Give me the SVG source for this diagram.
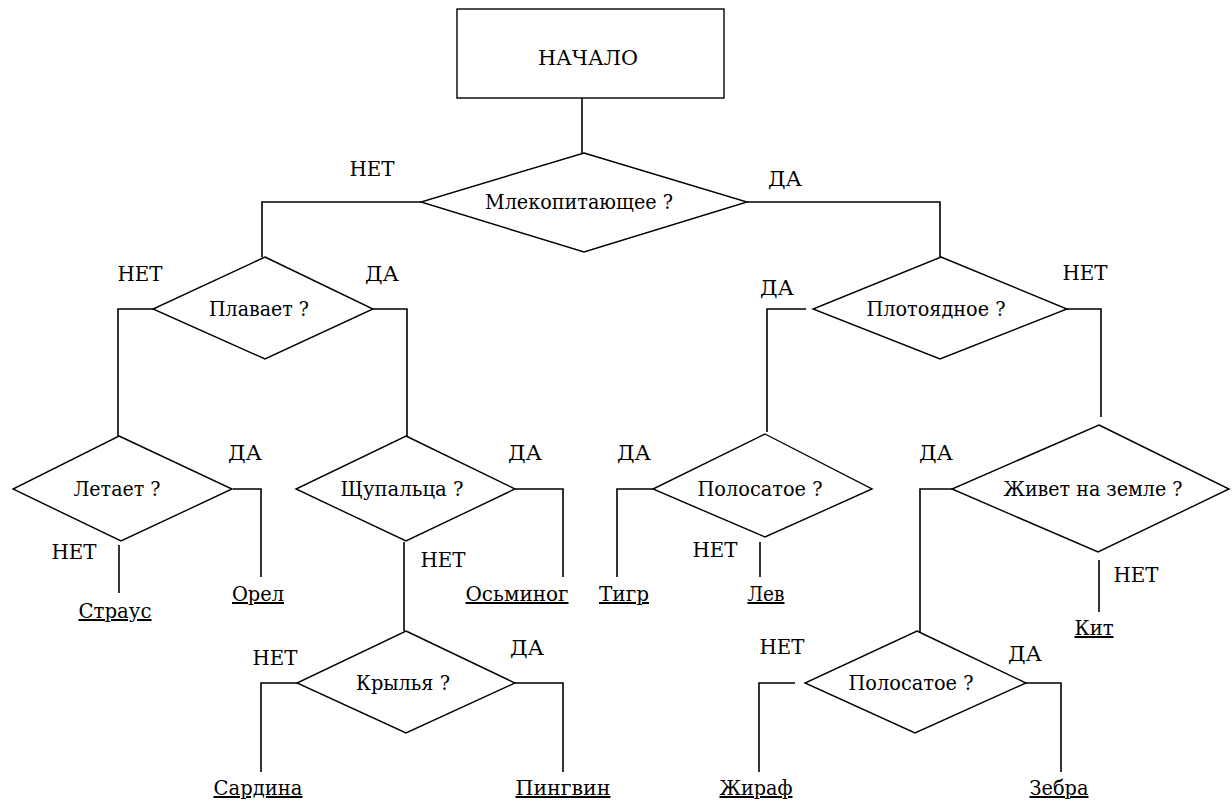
<svg xmlns="http://www.w3.org/2000/svg" width="1232" height="802" viewBox="0 0 1232 802">
<style>
.s{fill:none;stroke:#000;stroke-width:1.6}
.d{fill:#fff;stroke:#000;stroke-width:1.4}
.t{font-family:"DejaVu Serif","Liberation Serif",serif;fill:#000}
.q{font-size:20px;text-anchor:middle}
.l{font-size:21px;text-anchor:middle}
.leaf{font-size:20px;text-anchor:middle;text-decoration:underline}
</style>
<rect width="1232" height="802" fill="#fff"/>
<g id="connectors" class="s">
<path d="M582,98V153"/>
<path d="M421,202H262V257"/>
<path d="M747,202H940V257"/>
<path d="M153,309H118V436"/>
<path d="M373,309H407V436"/>
<path d="M233,489H261V577"/>
<path d="M119,545V593"/>
<path d="M515,489H563V577"/>
<path d="M404,542V631"/>
<path d="M297,683H261V772"/>
<path d="M515,683H563V772"/>
<path d="M806,309H767V432"/>
<path d="M1067,309H1101V417"/>
<path d="M653,489H617V577"/>
<path d="M760,542V577"/>
<path d="M952,489H920V632"/>
<path d="M1099,560V612"/>
<path d="M795,683H759V772"/>
<path d="M1026,683H1061V772"/>
</g>
<g class="t">
<g id="start"><rect class="d" x="457" y="9" width="267" height="89"/><text class="q" x="588" y="65" textLength="100" lengthAdjust="spacingAndGlyphs">НАЧАЛО</text></g>
<g id="q-mammal"><polygon class="d" points="584,153 747,202 584,252 421,202"/><text class="q" x="579" y="209" textLength="188" lengthAdjust="spacingAndGlyphs">Млекопитающее ?</text></g>
<g id="q-swims"><polygon class="d" points="265,257 373,309 265,359 153,309"/><text class="q" x="259" y="316" textLength="100" lengthAdjust="spacingAndGlyphs">Плавает ?</text></g>
<g id="q-flies"><polygon class="d" points="119,436 232,489 121,541 13,489"/><text class="q" x="117" y="496" textLength="87" lengthAdjust="spacingAndGlyphs">Летает ?</text></g>
<g id="q-tentacles"><polygon class="d" points="406,436 515,489 406,541 296,489"/><text class="q" x="402" y="496" textLength="123" lengthAdjust="spacingAndGlyphs">Щупальца ?</text></g>
<g id="q-wings"><polygon class="d" points="406,631 515,683 406,733 297,683"/><text class="q" x="403" y="690" textLength="94" lengthAdjust="spacingAndGlyphs">Крылья ?</text></g>
<g id="q-carnivore"><polygon class="d" points="941,257 1067,309 940,359 813,309"/><text class="q" x="936" y="316" textLength="139" lengthAdjust="spacingAndGlyphs">Плотоядное ?</text></g>
<g id="q-striped1"><polygon class="d" points="765,434 872,489 765,537 653,489"/><text class="q" x="760" y="496" textLength="125" lengthAdjust="spacingAndGlyphs">Полосатое ?</text></g>
<g id="q-land"><polygon class="d" points="1099,425 1229,489 1098,552 952,489"/><text class="q" x="1093" y="496" textLength="179" lengthAdjust="spacingAndGlyphs">Живет на земле ?</text></g>
<g id="q-striped2"><polygon class="d" points="917,631 1026,683 915,733 805,683"/><text class="q" x="911" y="690" textLength="125" lengthAdjust="spacingAndGlyphs">Полосатое ?</text></g>
<g id="labels">
<text class="l" x="372" y="176" textLength="45" lengthAdjust="spacingAndGlyphs">НЕТ</text>
<text class="l" x="785" y="186" textLength="34" lengthAdjust="spacingAndGlyphs">ДА</text>
<text class="l" x="140" y="281" textLength="45" lengthAdjust="spacingAndGlyphs">НЕТ</text>
<text class="l" x="382" y="281" textLength="34" lengthAdjust="spacingAndGlyphs">ДА</text>
<text class="l" x="245" y="460" textLength="34" lengthAdjust="spacingAndGlyphs">ДА</text>
<text class="l" x="74" y="559" textLength="45" lengthAdjust="spacingAndGlyphs">НЕТ</text>
<text class="l" x="525" y="460" textLength="34" lengthAdjust="spacingAndGlyphs">ДА</text>
<text class="l" x="443" y="567" textLength="45" lengthAdjust="spacingAndGlyphs">НЕТ</text>
<text class="l" x="275" y="665" textLength="45" lengthAdjust="spacingAndGlyphs">НЕТ</text>
<text class="l" x="527" y="655" textLength="34" lengthAdjust="spacingAndGlyphs">ДА</text>
<text class="l" x="777" y="295" textLength="34" lengthAdjust="spacingAndGlyphs">ДА</text>
<text class="l" x="1085" y="280" textLength="45" lengthAdjust="spacingAndGlyphs">НЕТ</text>
<text class="l" x="634" y="460" textLength="34" lengthAdjust="spacingAndGlyphs">ДА</text>
<text class="l" x="715" y="557" textLength="45" lengthAdjust="spacingAndGlyphs">НЕТ</text>
<text class="l" x="936" y="460" textLength="34" lengthAdjust="spacingAndGlyphs">ДА</text>
<text class="l" x="1136" y="582" textLength="45" lengthAdjust="spacingAndGlyphs">НЕТ</text>
<text class="l" x="782" y="654" textLength="45" lengthAdjust="spacingAndGlyphs">НЕТ</text>
<text class="l" x="1025" y="661" textLength="34" lengthAdjust="spacingAndGlyphs">ДА</text>
</g>
<g id="leaf-ostrich"><text class="leaf" x="115" y="618" textLength="73" lengthAdjust="spacingAndGlyphs">Страус</text></g>
<g id="leaf-eagle"><text class="leaf" x="258" y="601" textLength="52" lengthAdjust="spacingAndGlyphs">Орел</text></g>
<g id="leaf-octopus"><text class="leaf" x="517" y="601" textLength="103" lengthAdjust="spacingAndGlyphs">Осьминог</text></g>
<g id="leaf-tiger"><text class="leaf" x="624" y="601" textLength="50" lengthAdjust="spacingAndGlyphs">Тигр</text></g>
<g id="leaf-lion"><text class="leaf" x="766" y="601" textLength="37" lengthAdjust="spacingAndGlyphs">Лев</text></g>
<g id="leaf-whale"><text class="leaf" x="1094" y="635" textLength="39" lengthAdjust="spacingAndGlyphs">Кит</text></g>
<g id="leaf-sardine"><text class="leaf" x="258" y="795" textLength="89" lengthAdjust="spacingAndGlyphs">Сардина</text></g>
<g id="leaf-penguin"><text class="leaf" x="563" y="795" textLength="95" lengthAdjust="spacingAndGlyphs">Пингвин</text></g>
<g id="leaf-giraffe"><text class="leaf" x="756" y="795" textLength="73" lengthAdjust="spacingAndGlyphs">Жираф</text></g>
<g id="leaf-zebra"><text class="leaf" x="1059" y="795" textLength="59" lengthAdjust="spacingAndGlyphs">Зебра</text></g>
</g>
</svg>
